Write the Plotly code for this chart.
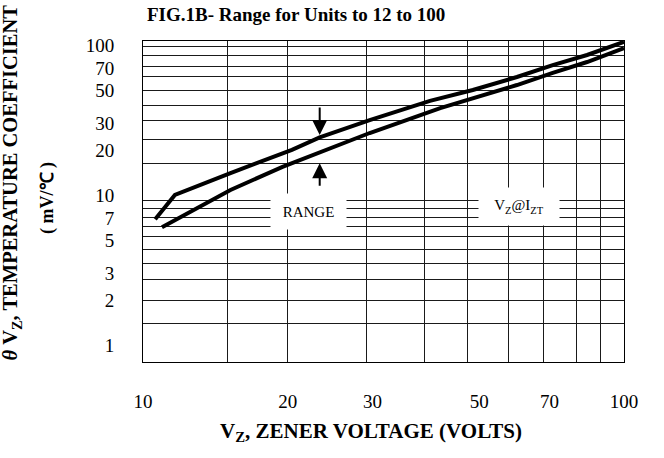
import math
import plotly.graph_objects as go

# ---- data ----
upper_vz = [10.6, 11.65, 15.2, 20.4, 23.3, 29.6, 39.5, 48.5, 59.9, 71.1, 83.8, 100]
upper_tc = [6.9, 10.0, 14.0, 20.0, 24.2, 31.6, 42.4, 50.1, 61.2, 73.5, 85.8, 105]
lower_vz = [10.95, 15.2, 19.5, 23.3, 29.6, 41.5, 48.5, 59.9, 71.1, 83.8, 100]
lower_tc = [6.1, 10.8, 15.4, 19.3, 25.9, 38.0, 44.3, 54.1, 65.1, 77.0, 95.5]

x_ticks = [10, 20, 30, 50, 70, 100]
y_ticks = [1, 2, 3, 5, 7, 10, 20, 30, 50, 70, 100]
x_grid = [14.95, 19.95, 29.1, 38.4, 47.2, 57.4, 67.9, 79.5, 89.5]
y_grid = [1.40, 1.99, 2.75, 3.47, 4.30, 5.25, 6.21, 7.03, 8.18, 9.25,
          16.3, 23.3, 31.6, 39.8, 49.9, 61.2, 72.4, 84.5, 97.0]

# arrows marking the range (tip positions, in data units)
arrow_vz = 23.3
arrow_down_tc = 25.1
arrow_up_tc = 16.3

FONT = "Liberation Serif, Times New Roman, serif"

fig = go.Figure()
for xs, ys in [(upper_vz, upper_tc), (lower_vz, lower_tc)]:
    fig.add_trace(go.Scatter(x=xs, y=ys, mode="lines",
                             line=dict(color="black", width=4),
                             showlegend=False, hoverinfo="skip"))

grid = dict(showgrid=True, gridcolor="#1a1a1a", gridwidth=1)

fig.update_xaxes(type="log", range=[1, 2], tickmode="array", tickvals=x_ticks,
                 ticktext=[str(v) for v in x_ticks], ticks="", showgrid=False,
                 ticklabelstandoff=22, showline=True, mirror=True,
                 linecolor="black", linewidth=1, zeroline=False,
                 tickfont=dict(family=FONT, size=19, color="black"),
                 minor=dict(tickmode="array", tickvals=x_grid, ticks="", **grid))
fig.update_yaxes(type="log", range=[-0.1133, 2.0267], tickmode="array", tickvals=y_ticks,
                 ticktext=[str(v) for v in y_ticks], ticks="", showgrid=False,
                 ticklabelstandoff=24, showline=True, mirror=True,
                 linecolor="black", linewidth=1, zeroline=False,
                 tickfont=dict(family=FONT, size=19, color="black"),
                 minor=dict(tickmode="array", tickvals=y_grid, ticks="", **grid))

ann = []
# title
ann.append(dict(xref="paper", yref="paper", x=0.004, y=1.084, xanchor="left", yanchor="middle",
                text="<b>FIG.1B- Range for Units to 12 to 100</b>", showarrow=False,
                font=dict(family=FONT, size=19, color="black")))
# x title
ann.append(dict(xref="paper", yref="paper", x=0.473, y=-0.218, xanchor="center", yanchor="middle",
                text="<b>V<sub>Z</sub>, ZENER VOLTAGE (VOLTS)</b>", showarrow=False,
                font=dict(family=FONT, size=21, color="black")))
# y title (two lines)
ann.append(dict(xref="paper", yref="paper", x=-0.2723, y=0.559, xanchor="center", yanchor="middle",
                text="<b><i>θ</i> V<sub>Z</sub>, TEMPERATURE COEFFICIENT</b>", textangle=-90,
                showarrow=False, font=dict(family=FONT, size=20.5, color="black")))
ann.append(dict(xref="paper", yref="paper", x=-0.1975, y=0.511, xanchor="center", yanchor="middle",
                text="<b>( mV/℃ )</b>", textangle=-90,
                showarrow=False, font=dict(family=FONT, size=18, color="black")))
# in-plot labels
ann.append(dict(xref="paper", yref="paper", x=0.344, y=0.469, xanchor="center", yanchor="middle",
                text="RANGE", showarrow=False, bgcolor="white", width=73, height=33,
                font=dict(family=FONT, size=15, color="black")))
ann.append(dict(xref="paper", yref="paper", x=0.7817, y=0.483, xanchor="center", yanchor="middle",
                text="V<sub>Z</sub>@I<sub>ZT</sub>", showarrow=False, bgcolor="white", width=78, height=35,
                font=dict(family=FONT, size=15, color="black")))
# arrows
ann.append(dict(xref="x", yref="y", x=math.log10(arrow_vz), y=math.log10(arrow_down_tc),
                ax=0, ay=-29, text="", showarrow=True, arrowhead=2, arrowsize=1.5,
                arrowwidth=2, arrowcolor="black", standoff=0))
ann.append(dict(xref="x", yref="y", x=math.log10(arrow_vz), y=math.log10(arrow_up_tc),
                ax=0, ay=24, text="", showarrow=True, arrowhead=2, arrowsize=1.5,
                arrowwidth=2, arrowcolor="black", standoff=0))

fig.update_layout(width=664, height=458, margin=dict(l=143, r=40, t=41, b=96),
                  paper_bgcolor="white", plot_bgcolor="white", annotations=ann,
                  font=dict(family=FONT, color="black"))

fig.write_html("out.html", config={"displayModeBar": False},
               post_script="document.body.style.margin='0';document.body.style.overflow='hidden';")
